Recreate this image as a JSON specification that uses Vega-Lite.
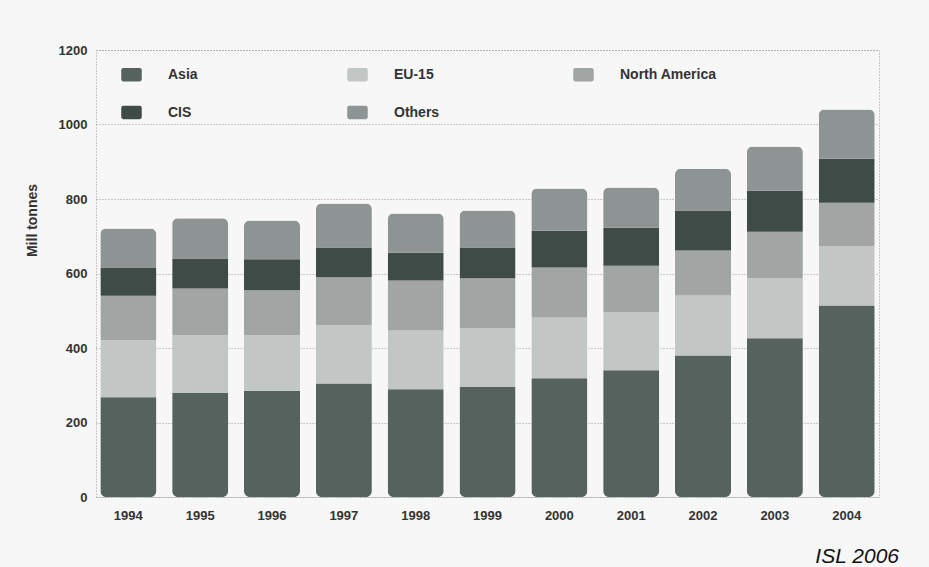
{
  "$schema": "https://vega.github.io/schema/vega-lite/v6.json",
  "width": 783,
  "height": 447,
  "autosize": "none",
  "padding": {"left": 96, "top": 50, "right": 50, "bottom": 70},
  "background": "#f6f7f6",
  "title": {
    "text": "ISL 2006",
    "orient": "bottom",
    "anchor": "end",
    "font": "Liberation Sans",
    "fontStyle": "italic",
    "fontWeight": "normal",
    "fontSize": 21,
    "color": "#111",
    "offset": 24,
    "dx": 20
  },
  "data": {
    "values": [
      {"year": "1994", "region": "Asia", "tonnes": 268},
      {"year": "1994", "region": "EU-15", "tonnes": 153},
      {"year": "1994", "region": "North America", "tonnes": 119},
      {"year": "1994", "region": "CIS", "tonnes": 76},
      {"year": "1994", "region": "Others", "tonnes": 105},
      {"year": "1995", "region": "Asia", "tonnes": 279},
      {"year": "1995", "region": "EU-15", "tonnes": 155},
      {"year": "1995", "region": "North America", "tonnes": 126},
      {"year": "1995", "region": "CIS", "tonnes": 80},
      {"year": "1995", "region": "Others", "tonnes": 108},
      {"year": "1996", "region": "Asia", "tonnes": 285},
      {"year": "1996", "region": "EU-15", "tonnes": 149},
      {"year": "1996", "region": "North America", "tonnes": 121},
      {"year": "1996", "region": "CIS", "tonnes": 83},
      {"year": "1996", "region": "Others", "tonnes": 104},
      {"year": "1997", "region": "Asia", "tonnes": 305},
      {"year": "1997", "region": "EU-15", "tonnes": 156},
      {"year": "1997", "region": "North America", "tonnes": 129},
      {"year": "1997", "region": "CIS", "tonnes": 80},
      {"year": "1997", "region": "Others", "tonnes": 118},
      {"year": "1998", "region": "Asia", "tonnes": 289},
      {"year": "1998", "region": "EU-15", "tonnes": 158},
      {"year": "1998", "region": "North America", "tonnes": 134},
      {"year": "1998", "region": "CIS", "tonnes": 75},
      {"year": "1998", "region": "Others", "tonnes": 105},
      {"year": "1999", "region": "Asia", "tonnes": 295},
      {"year": "1999", "region": "EU-15", "tonnes": 158},
      {"year": "1999", "region": "North America", "tonnes": 134},
      {"year": "1999", "region": "CIS", "tonnes": 83},
      {"year": "1999", "region": "Others", "tonnes": 99},
      {"year": "2000", "region": "Asia", "tonnes": 319},
      {"year": "2000", "region": "EU-15", "tonnes": 163},
      {"year": "2000", "region": "North America", "tonnes": 134},
      {"year": "2000", "region": "CIS", "tonnes": 99},
      {"year": "2000", "region": "Others", "tonnes": 113},
      {"year": "2001", "region": "Asia", "tonnes": 340},
      {"year": "2001", "region": "EU-15", "tonnes": 156},
      {"year": "2001", "region": "North America", "tonnes": 125},
      {"year": "2001", "region": "CIS", "tonnes": 102},
      {"year": "2001", "region": "Others", "tonnes": 108},
      {"year": "2002", "region": "Asia", "tonnes": 380},
      {"year": "2002", "region": "EU-15", "tonnes": 161},
      {"year": "2002", "region": "North America", "tonnes": 121},
      {"year": "2002", "region": "CIS", "tonnes": 107},
      {"year": "2002", "region": "Others", "tonnes": 112},
      {"year": "2003", "region": "Asia", "tonnes": 426},
      {"year": "2003", "region": "EU-15", "tonnes": 161},
      {"year": "2003", "region": "North America", "tonnes": 125},
      {"year": "2003", "region": "CIS", "tonnes": 110},
      {"year": "2003", "region": "Others", "tonnes": 119},
      {"year": "2004", "region": "Asia", "tonnes": 514},
      {"year": "2004", "region": "EU-15", "tonnes": 159},
      {"year": "2004", "region": "North America", "tonnes": 117},
      {"year": "2004", "region": "CIS", "tonnes": 118},
      {"year": "2004", "region": "Others", "tonnes": 132}
    ]
  },
  "transform": [
    {"calculate": "indexof(['Asia', 'EU-15', 'North America', 'CIS', 'Others'], datum.region)", "as": "stackRank"}
  ],
  "mark": {"type": "bar", "cornerRadius": 6},
  "encoding": {
    "x": {
      "field": "year",
      "type": "ordinal",
      "scale": {"paddingInner": 0.22, "paddingOuter": 0.06},
      "axis": {
        "title": null,
        "labelAngle": 0,
        "ticks": false,
        "domain": false,
        "labelPadding": 12,
        "labelFont": "Liberation Sans",
        "labelFontWeight": "bold",
        "labelFontSize": 13,
        "labelColor": "#333"
      }
    },
    "y": {
      "field": "tonnes",
      "type": "quantitative",
      "stack": "zero",
      "scale": {"domain": [0, 1200], "nice": false},
      "axis": {
        "title": "Mill tonnes",
        "values": [0, 200, 400, 600, 800, 1000, 1200],
        "format": "d",
        "ticks": false,
        "domain": false,
        "labelPadding": 9,
        "labelFont": "Liberation Sans",
        "labelFontWeight": "bold",
        "labelFontSize": 13,
        "labelColor": "#333",
        "titleFont": "Liberation Sans",
        "titleFontWeight": "bold",
        "titleFontSize": 14,
        "titleColor": "#333",
        "titleX": -64,
        "titleY": 170,
        "titleAngle": -90,
        "titleAlign": "center",
        "titleBaseline": "middle",
        "gridColor": "#999",
        "gridDash": [1, 2],
        "gridWidth": 1
      }
    },
    "color": {
      "field": "region",
      "type": "nominal",
      "sort": ["Asia", "EU-15", "North America", "CIS", "Others"],
      "scale": {
        "domain": ["Asia", "EU-15", "North America", "CIS", "Others"],
        "range": ["#55625e", "#c2c6c4", "#a1a6a5", "#3e4b47", "#8d9493"]
      },
      "legend": {
        "title": null,
        "orient": "none",
        "direction": "horizontal",
        "legendX": 25,
        "legendY": 14,
        "columns": 3,
        "gridAlign": "all",
        "columnPadding": 82,
        "rowPadding": 20,
        "symbolType": "M-0.8,-0.65 Q-1,-0.65 -1,-0.45 L-1,0.45 Q-1,0.65 -0.8,0.65 L0.8,0.65 Q1,0.65 1,0.45 L1,-0.45 Q1,-0.65 0.8,-0.65 Z",
        "symbolSize": 420,
        "symbolStrokeWidth": 0,
        "symbolOpacity": 1,
        "labelOffset": 26,
        "labelFont": "Liberation Sans",
        "labelFontWeight": "bold",
        "labelFontSize": 14,
        "labelColor": "#333",
        "labelLimit": 200
      }
    },
    "order": {"field": "stackRank", "type": "quantitative", "sort": "ascending"}
  },
  "config": {
    "view": {"stroke": "#999", "strokeDash": [1, 2], "strokeWidth": 1}
  }
}
